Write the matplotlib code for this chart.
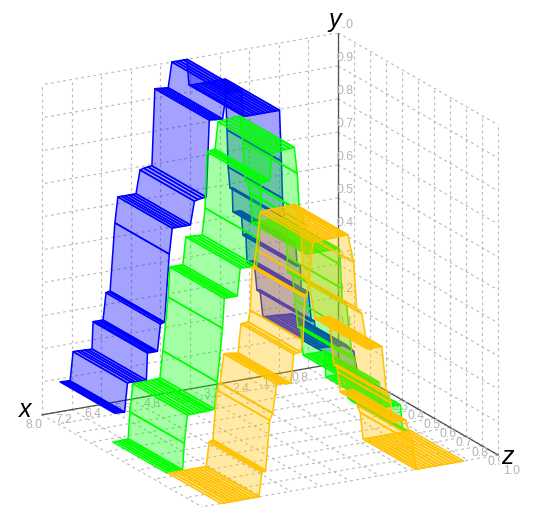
import matplotlib
matplotlib.use("Agg")
import matplotlib.pyplot as plt
from mpl_toolkits.mplot3d import proj3d
from mpl_toolkits.mplot3d.art3d import Poly3DCollection

plt.rcParams['font.family'] = ['Liberation Sans', 'DejaVu Sans']

x_ticks = [0.0, 0.8, 1.6, 2.4, 3.2, 4.0, 4.8, 5.6, 6.4, 7.2, 8.0]
y_ticks = [0.0, 0.1, 0.2, 0.3, 0.4, 0.5, 0.6, 0.7, 0.8, 0.9, 1.0]
z_ticks = [0.0, 0.1, 0.2, 0.3, 0.4, 0.5, 0.6, 0.7, 0.8, 0.9, 1.0]

blue_z = (0.0, 0.34)
blue_x = [7.51, 7.45, 7.37, 7.30, 7.24, 7.16, 7.05, 6.95, 6.85, 6.75, 6.65,
          6.62, 6.55, 6.47, 6.41, 6.35, 6.27, 6.21, 6.16, 6.03,
          5.95, 5.85, 5.76, 5.66, 5.56, 5.46, 5.35, 5.25, 5.14, 5.03,
          4.95, 4.86, 4.77, 4.68, 4.59, 4.49, 4.39, 4.29, 4.18, 4.08,
          4.03, 3.93, 3.83, 3.72, 3.63, 3.53, 3.44, 3.34, 3.24, 3.15, 3.05,
          3.00, 2.97, 2.92, 2.86, 2.84, 2.76, 2.69, 2.62, 2.57, 2.53, 2.49,
          2.46, 2.39, 2.33, 2.27, 2.19, 2.15, 2.11,
          2.03, 1.93, 1.83, 1.73, 1.63, 1.53, 1.43, 1.33, 1.24, 1.05, 0.95]
blue_y = [.090, .090, .089, .089, .088, .175, .175, .174, .174, .173, .173,
          .255, .255, .255, .255, .255, .336, .338, .339, .543,
          .620, .620, .620, .620, .620, .620, .690, .693, .695, .696,
          .928, .927, .926, .925, .924, 1.00, 1.00, 1.00, 1.00, 1.00,
          .922, .920, .920, .920, .920, .920, .920, .920, .920, .920, .920,
          .765, .652, .588, .587, .514, .513, .513, .512, .438, .439, .440,
          .355, .355, .354, .354, .264, .264, .263,
          .179, .179, .178, .178, .177, .176, .175, .174, .173, .151, .088]

green_z = (0.33, 0.67)
green_x = [7.51, 7.42, 7.33, 7.25, 7.17, 7.10, 7.05, 6.97, 6.87, 6.77, 6.67,
           6.57, 6.47, 6.39, 6.32, 6.24, 6.16, 6.02, 5.97, 5.88, 5.80, 5.71,
           5.62, 5.54, 5.44, 5.33, 5.22, 5.10, 5.02, 4.97, 4.89, 4.82, 4.75,
           4.67, 4.56, 4.44, 4.32, 4.20, 4.08,
           4.00, 3.94, 3.88, 3.81, 3.78, 3.75, 3.65, 3.55, 3.45, 3.35, 3.25,
           3.15, 3.05, 2.95, 2.86, 2.83, 2.80, 2.78, 2.67, 2.59, 2.51, 2.44,
           2.37, 2.27, 2.17, 2.07, 1.97, 1.87, 1.78, 1.76, 1.66, 1.55, 1.44,
           1.33, 1.21, 1.16, 1.08, 1.00]
green_y = [.000, .000, .000, .001, .001, .002, .082, .166, .166, .166, .167,
           .167, .167, .168, .168, .170, .250, .410, .500, .500, .500, .500,
           .500, .583, .582, .582, .581, .580, .660, .830, .831, .832, .833,
           .915, .916, .917, .918, .919, .920,
           .840, .724, .720, .683, .680, .590, .590, .590, .590, .590, .590,
           .590, .590, .590, .588, .540, .468, .423, .418, .334, .250, .250,
           .163, .163, .163, .163, .163, .163, .163, .085, .085, .085, .084,
           .084, .083, .010, .000, .000]

orange_z = (0.67, 1.0)
orange_x = [7.49, 7.38, 7.27, 7.17, 7.07, 6.97, 6.87, 6.77, 6.67, 6.56, 6.46,
            6.38, 6.33, 6.28, 6.17, 6.09, 5.98, 5.88, 5.79, 5.69, 5.60,
            5.52, 5.44, 5.33, 5.27, 5.22, 5.17, 5.11, 5.00, 4.90, 4.80, 4.70,
            4.60, 4.50, 4.40, 4.30, 4.20, 4.13, 4.06,
            3.90, 3.82, 3.68, 3.52, 3.44, 3.36, 3.28, 3.20, 3.14, 3.01, 2.95,
            2.90, 2.84, 2.75, 2.66, 2.57, 2.49, 2.38, 2.30, 2.22, 2.12, 2.01,
            1.90, 1.79, 1.68, 1.57, 1.46, 1.35, 1.24, 1.13, 1.03, 0.93]
orange_y = [.000, .000, .000, .000, .000, .000, .000, .000, .000, .000, .000,
            .073, .075, .077, .226, .246, .332, .331, .330, .328, .327,
            .414, .415, .416, .450, .580, .582, .630, .743, .744, .744, .745,
            .745, .745, .745, .746, .746, .747, .747,
            .660, .520, .500, .390, .390, .390, .390, .390, .390, .240, .240,
            .216, .155, .155, .155, .155, .154, .106, .082, .000, .000, .000,
            .000, .000, .000, .000, .000, .000, .000, .000, .000, .000]

series = [
    (blue_x, blue_y, blue_z, (0, 0, 1), 5),
    (green_x, green_y, green_z, (0, 1, 0), 6),
    (orange_x, orange_y, orange_z, (1, 0.76, 0), 7),
]

W, H = 535, 520
fig = plt.figure(figsize=(W / 100, H / 100), dpi=100, facecolor='white')
ax = fig.add_axes([-0.5, -0.5, 2, 2], projection='3d',
                  computed_zorder=False, proj_type='ortho')
ax.set_axis_off()
ax.patch.set_visible(False)
ax.set_xlim(0, 8)
ax.set_ylim(0, 1)
ax.set_zlim(0, 1)
ax.view_init(elev=18.5, azim=61.1)
aspect = (338, 331, 348)
ax.set_box_aspect(aspect, zoom=1)

grid_kw = dict(color='#bcbcbc', lw=0.85, ls=(0, (2.4, 2.8)), zorder=1)
for t in x_ticks:
    ax.plot([t, t], [0, 1], [0, 0], **grid_kw)
    ax.plot([t, t], [0, 0], [0, 1], **grid_kw)
for t in z_ticks:
    ax.plot([0, 8], [t, t], [0, 0], **grid_kw)
    ax.plot([0, 0], [t, t], [0, 1], **grid_kw)
for t in y_ticks:
    ax.plot([0, 8], [0, 0], [t, t], **grid_kw)
    ax.plot([0, 0], [0, 1], [t, t], **grid_kw)

axis_kw = dict(color='#4d4d4d', lw=0.9, zorder=2)
ax.plot([0, 8], [0, 0], [0, 0], **axis_kw)
ax.plot([0, 0], [0, 1], [0, 0], **axis_kw)
ax.plot([0, 0], [0, 0], [0, 1], **axis_kw)

for xs, ys, (z0, z1), col, zo in series:
    verts = []
    for (xa, ya), (xb, yb) in zip(zip(xs, ys, strict=True),
                                  zip(xs[1:], ys[1:], strict=True)):
        verts.append([(xa, z0, ya), (xb, z0, yb), (xb, z1, yb), (xa, z1, ya)])
    pc = Poly3DCollection(verts, facecolors=col + (0.36,), edgecolors=col + (1.0,),
                          linewidths=1.1, zorder=zo, zsort='average')
    ax.add_collection3d(pc, autolim=False)


def to_disp(X, Y, Z):
    a, b, _ = proj3d.proj_transform(X, Y, Z, ax.get_proj())
    return ax.transData.transform((a, b))


# fit the view to the frame of the figure
fig.canvas.draw()
span = to_disp(0, 1, 0)[0] - to_disp(8, 0, 0)[0]
ax.set_box_aspect(aspect, zoom=456 / span)
fig.canvas.draw()
p = to_disp(0, 0, 0)
dx, dy = 338 - p[0], (H - 363) - p[1]
ax.set_position([-0.5 + dx / W, -0.5 + dy / H, 2, 2])
fig.canvas.draw()


def label(X, Y, Z, s, ox, oy, **kw):
    a, b, _ = proj3d.proj_transform(X, Y, Z, ax.get_proj())
    ax.annotate(s, xy=(a, b), xytext=(ox, oy), textcoords='offset pixels',
                ha='center', va='center', **kw)


tick_kw = dict(fontsize=8.8, color='#b4b4b4')
for t in x_ticks[1:]:
    label(t, 0, 0, f'{t:.1f}', -8, -10, zorder=3, **tick_kw)
for t in y_ticks[1:]:
    label(0, 0, t, f'{t:.1f}', 7, 8, zorder=3, **tick_kw)
for t in z_ticks[1:]:
    label(0, t, 0, f'{t:.1f}', 14, -16, zorder=5 if t == 1.0 else 3, **tick_kw)

name_kw = dict(fontsize=18, style='italic', color='black', zorder=4)
cover = dict(fc='white', ec='none', pad=0.5)
label(8, 0, 0, 'x', -17, 5, **name_kw)
label(0, 0, 1, 'y', -3, 13, bbox=cover, **name_kw)
label(0, 1, 0, 'z', 9, -2, bbox=cover, **name_kw)

fig.savefig('out.png', dpi=100)
